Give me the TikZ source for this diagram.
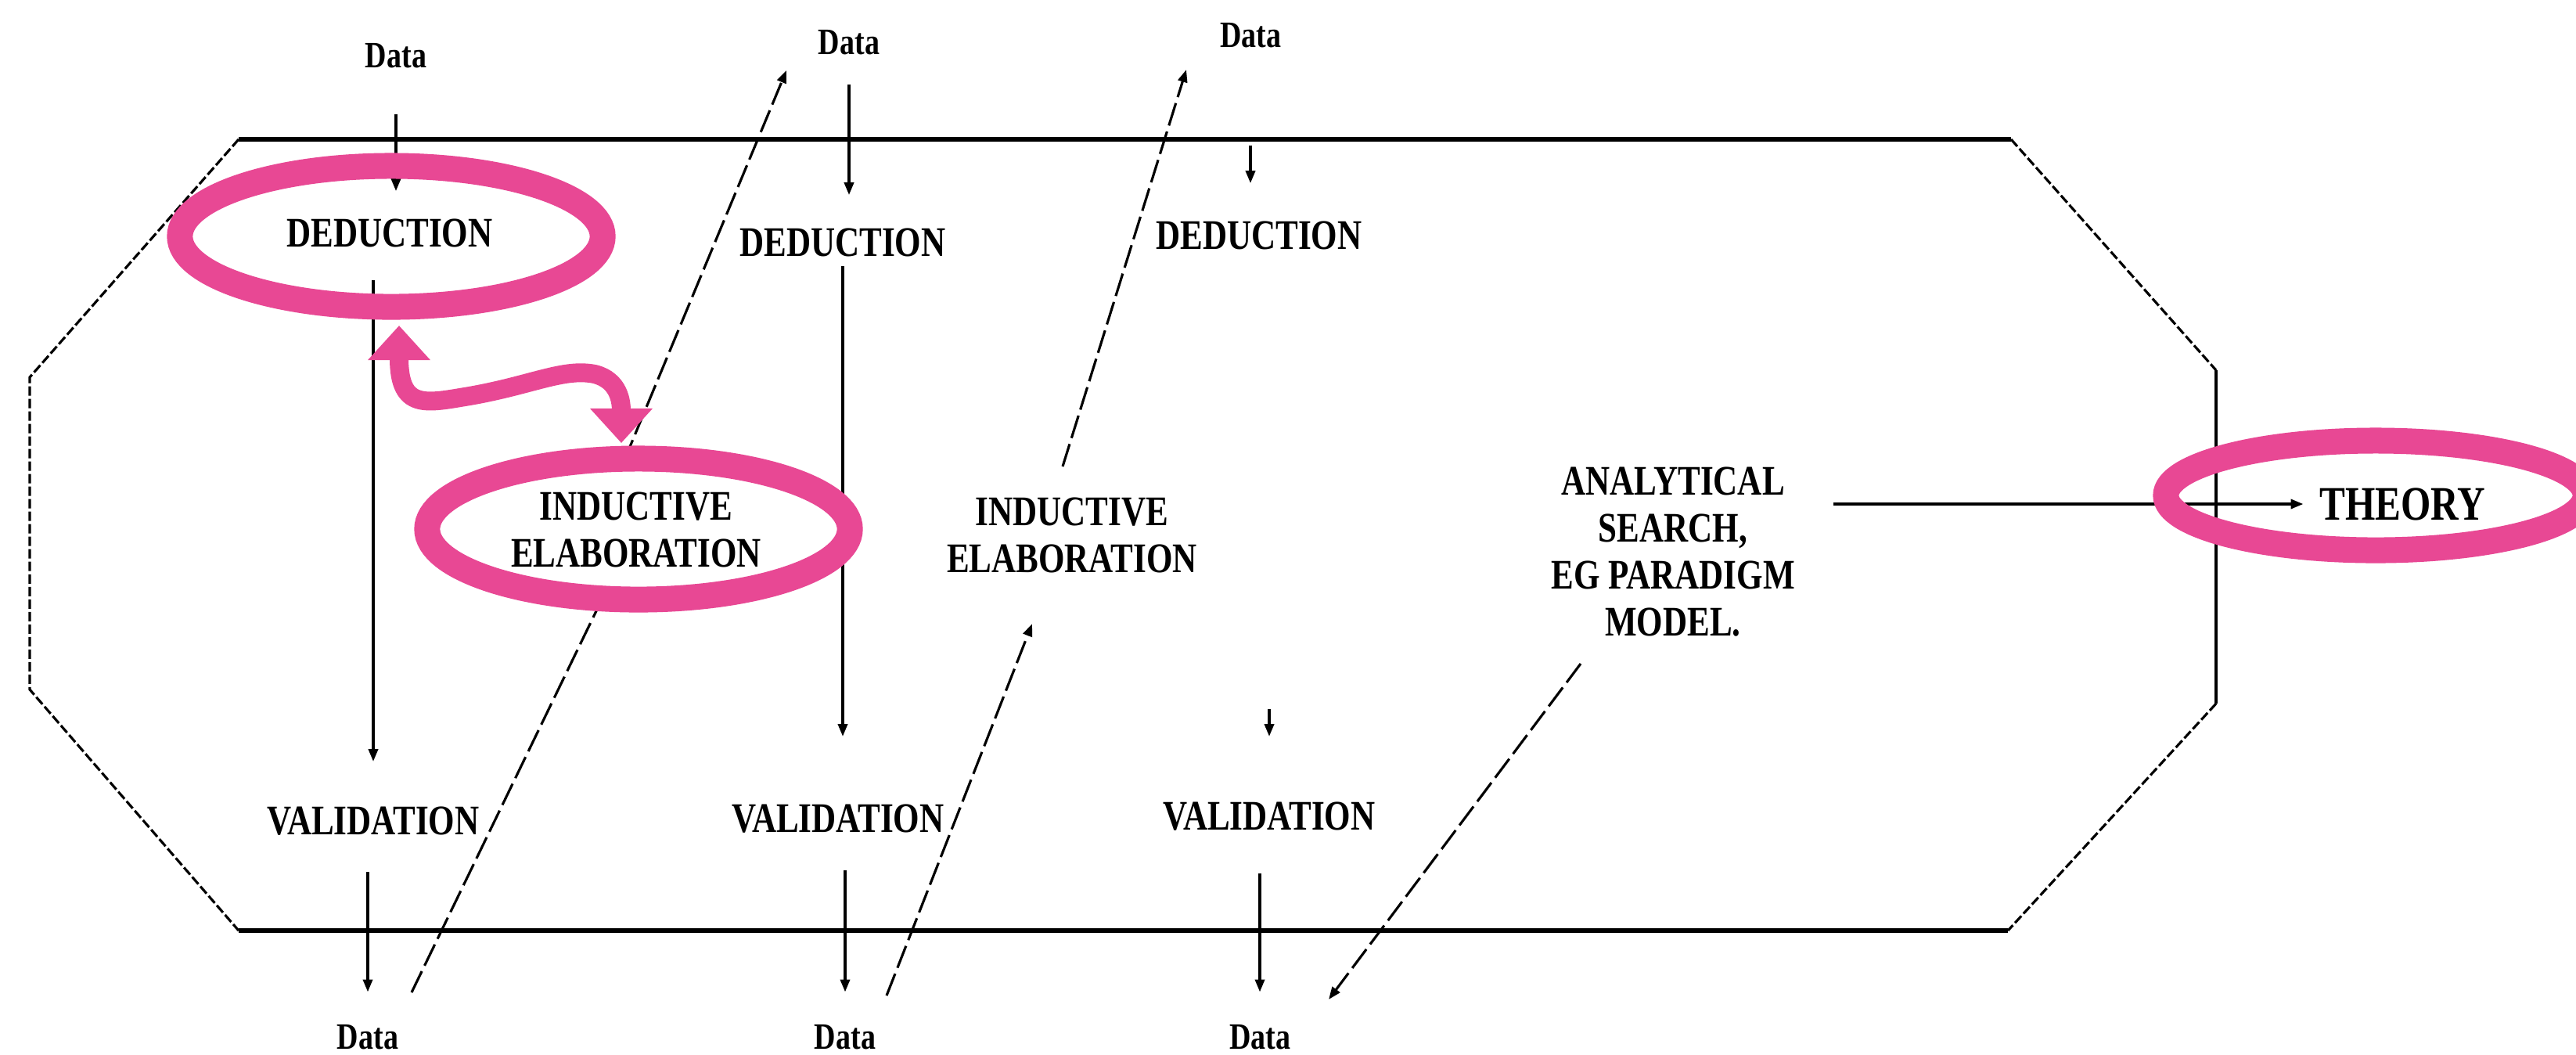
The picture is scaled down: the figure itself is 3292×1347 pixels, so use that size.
\documentclass[tikz,border=0pt]{standalone}
\usepackage{fontspec}
\setmainfont{Liberation Serif}[FakeStretch=0.8]
\usetikzlibrary{arrows.meta}
\definecolor{ringpink}{RGB}{232,72,148}
\begin{document}
\begin{tikzpicture}[x=0.01cm,y=-0.01cm,
  lbl/.style={font=\fontsize{15.3}{17}\selectfont\bfseries, align=center, inner sep=0pt},
  datalbl/.style={font=\fontsize{13.5}{15}\selectfont\bfseries, inner sep=0pt},
  conn/.style={line width=1pt, -{Triangle[length=0.16cm,width=0.12cm]}},
  plainline/.style={line width=1pt},
  slant/.style={line width=0.9pt, dash pattern=on 0.3cm off 0.08cm},
  slantarrow/.style={slant, -{Triangle[length=0.16cm,width=0.12cm]}},
  frameedge/.style={line width=1.5pt},
  sideedge/.style={line width=0.9pt, dash pattern=on 0.12cm off 0.04cm},
  ring/.style={draw=ringpink, line width=0.33cm},
  pinkarrow/.style={draw=ringpink, line width=0.24cm,
    {Triangle[length=0.44cm,width=0.77cm]}-{Triangle[length=0.44cm,width=0.77cm]}}
]
\useasboundingbox (0,0) rectangle (3292,1347);
\clip (0,0) rectangle (3292,1347);
\fill[white] (0,0) rectangle (3292,1347);

% frame (octagon)
\draw[frameedge] (305,178) -- (2570,178);
\draw[frameedge] (305,1189) -- (2566,1189);
\draw[sideedge] (305,178) -- (38,482) -- (38,881) -- (305,1189);
\draw[sideedge] (2570,178) -- (2832,473);
\draw[plainline] (2832,473) -- (2832,899);
\draw[sideedge] (2832,899) -- (2566,1189);

% labels
\node[datalbl] (dt1) at (506,71) {Data};
\node[datalbl] (dt2) at (1085,54) {Data};
\node[datalbl] (dt3) at (1598,45) {Data};
\node[datalbl] (db1) at (470,1325) {Data};
\node[datalbl] (db2) at (1080,1325) {Data};
\node[datalbl] (db3) at (1610,1325) {Data};

\node[lbl] (ded1) at (498,298) {DEDUCTION};
\node[lbl] (ded2) at (1077,310) {DEDUCTION};
\node[lbl] (ded3) at (1609,301) {DEDUCTION};
\node[lbl] (ie1) at (813,677) {INDUCTIVE\\ELABORATION};
\node[lbl] (ie2) at (1370,684) {INDUCTIVE\\ELABORATION};
\node[lbl] (val1) at (477,1049) {VALIDATION};
\node[lbl] (val2) at (1071,1046) {VALIDATION};
\node[lbl] (val3) at (1622,1043) {VALIDATION};
\node[lbl] (ana) at (2138,705) {ANALYTICAL\\SEARCH,\\EG PARADIGM\\MODEL.};
\node[lbl, font=\fontsize{17.5}{19}\selectfont\bfseries] (th) at (3070,644) {THEORY};

% vertical connectors
\draw[conn, shorten <=0.58cm, shorten >=0.35cm] (dt1.south) -- (dt1.south |- ded1.north);
\draw[conn, shorten <=0.41cm, shorten >=0.57cm] (val1 |- ded1.south) -- (val1.north);
\draw[conn, shorten <=0.46cm, shorten >=0.41cm] (db1 |- val1.south) -- (db1.north);
\draw[conn, shorten <=0.37cm, shorten >=0.42cm] (dt2.south) -- (dt2.south |- ded2.north);
\draw[conn, shorten <=0.11cm, shorten >=0.86cm] (ded2.south) -- (ded2.south |- val2.north);
\draw[conn, shorten <=0.47cm, shorten >=0.41cm] (db2 |- val2.south) -- (db2.north);
\draw[conn, shorten <=1.24cm, shorten >=0.48cm] (dt3.south) -- (dt3.south |- ded3.north);
\draw[conn, shorten <=5.86cm, shorten >=0.83cm] (val3 |- ded3.south) -- (val3.north);
\draw[conn, shorten <=0.54cm, shorten >=0.41cm] (db3 |- val3.south) -- (db3.north);
\draw[conn, shorten <=0.49cm, shorten >=0.2cm] (ana.east |- th.west) -- (th.west);

% slanted (dashed) connectors
\coordinate (a1s) at (526,1268);
\coordinate (a1e) at (772,760);
\coordinate (a2s) at (797,590);
\coordinate (a2e) at (1005,90);
\coordinate (b1s) at (1133,1272);
\coordinate (b1e) at (1319,797);
\coordinate (c1s) at (1358,596);
\coordinate (c1e) at (1516,89);
\coordinate (d1s) at (2020,848);
\coordinate (d1e) at (1698,1277);
\draw[slant] (a1s) -- (a1e);
\draw[slantarrow] (a2s) -- (a2e);
\draw[slantarrow] (b1s) -- (b1e);
\draw[slantarrow] (c1s) -- (c1e);
\draw[slantarrow] (d1s) -- (d1e);

% pink annotations
\draw[ring] (500,302) ellipse [x radius=2.7cm, y radius=0.9cm];
\draw[ring] (816,676) ellipse [x radius=2.7cm, y radius=0.9cm];
\draw[ring] (3036,633) ellipse [x radius=2.68cm, y radius=0.70cm];
\draw[pinkarrow] (510,416) .. controls (510,525) and (545,515) .. (600,506)
  .. controls (680,492) and (720,470) .. (760,478)
  .. controls (792,486) and (794,515) .. (794,566);
\end{tikzpicture}
\end{document}
